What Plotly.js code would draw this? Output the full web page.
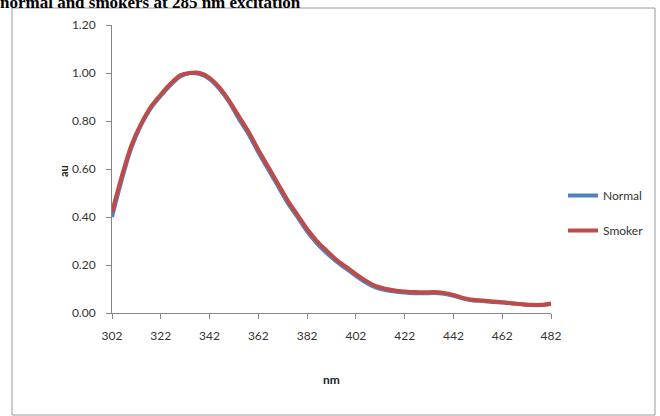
<!DOCTYPE html>
<html>
<head>
<meta charset="utf-8">
<script src="https://cdn.plot.ly/plotly-3.0.1.min.js"></script>
<style>
html,body{margin:0;padding:0;background:#fff;overflow:hidden;}
#chart{width:660px;height:416px;}
</style>
</head>
<body>
<div id="chart"></div>
<script>
var wavelength = [302,306,310,314,318,322,326,330,334,338,342,346,350,354,358,362,366,370,374,378,382,386,390,394,398,402,406,410,414,418,422,426,430,434,438,442,446,450,454,458,462,466,470,474,478,482];
var normal = [0.40,0.555,0.69,0.785,0.855,0.905,0.95,0.985,1.00,0.995,0.975,0.935,0.88,0.81,0.745,0.67,0.60,0.53,0.46,0.40,0.34,0.29,0.25,0.215,0.185,0.155,0.128,0.107,0.096,0.09,0.085,0.082,0.082,0.083,0.08,0.072,0.06,0.052,0.05,0.046,0.044,0.04,0.036,0.033,0.033,0.038];
var smoker = [0.42,0.57,0.70,0.79,0.86,0.91,0.955,0.99,1.00,1.00,0.98,0.94,0.885,0.82,0.755,0.68,0.61,0.54,0.47,0.41,0.35,0.30,0.26,0.222,0.192,0.162,0.135,0.113,0.101,0.094,0.09,0.087,0.086,0.087,0.083,0.075,0.063,0.055,0.052,0.048,0.045,0.041,0.037,0.034,0.034,0.04];
var xTicks = [302,322,342,362,382,402,422,442,462,482];
var yTicks = [0,0.2,0.4,0.6,0.8,1.0,1.2];
var yTickText = ["0.00","0.20","0.40","0.60","0.80","1.00","1.20"];

var tickFont = {family:"Lato, 'Open Sans', sans-serif", size:12, color:"#333333"};

var traces = [
  {x:wavelength, y:normal, name:"Normal", mode:"lines", legendgroup:"a",
   line:{color:"#4F81BD", width:4, shape:"spline", smoothing:0.8}},
  {x:wavelength, y:smoker, name:"Smoker", mode:"lines", legendgroup:"b",
   line:{color:"#BE4B48", width:4, shape:"spline", smoothing:0.8}}
];

var L=112, R=551, T=25, B=313;
var W=R-L, H=B-T;
function px(x){return (x-L)/W;}
function py(y){return (B-y)/H;}

var layout = {
  width:660, height:416,
  margin:{l:L, r:660-R, t:T, b:416-B, pad:0, autoexpand:false},
  paper_bgcolor:"#ffffff", plot_bgcolor:"#ffffff",
  showlegend:true,
  title:{text:"normal and smokers at 285 nm excitation", x:0, xref:"container", xanchor:"left",
         y:1-8/416, yref:"container", yanchor:"bottom", automargin:false,
         font:{family:"'Liberation Serif', 'Times New Roman', serif", size:17, color:"#000", weight:"bold"}},
  xaxis:{range:[302,482], tickvals:xTicks, ticktext:xTicks.map(String), showgrid:false, zeroline:false,
         showline:true, linecolor:"#868686", linewidth:1, ticks:"outside", ticklen:5, tickcolor:"#868686",
         ticklabelstandoff:7, tickfont:tickFont, fixedrange:true, automargin:false},
  yaxis:{range:[0,1.2], tickvals:yTicks, ticktext:yTickText, showgrid:false, zeroline:false,
         showline:true, linecolor:"#868686", linewidth:1, ticks:"outside", ticklen:5, tickcolor:"#868686",
         ticklabelstandoff:8, tickfont:tickFont, fixedrange:true, automargin:false},
  legend:{x:px(563), y:py(181), xanchor:"left", yanchor:"top", traceorder:"grouped", tracegroupgap:16,
          font:{family:"Lato, 'Open Sans', sans-serif", size:12, color:"#333333"}, bgcolor:"rgba(0,0,0,0)",
          itemwidth:30},
  shapes:[{type:"rect", xref:"paper", yref:"paper", x0:px(12), x1:px(655), y0:py(415), y1:py(8),
           line:{color:"#9a9a9a", width:1}, fillcolor:"rgba(0,0,0,0)", layer:"below"}],
  annotations:[
    {text:"au", xref:"paper", yref:"paper", x:px(63), y:py(171), textangle:-90, showarrow:false,
     xanchor:"center", yanchor:"middle", font:{family:"Lato, 'Open Sans', sans-serif", size:11, color:"#222", weight:"bold"}},
    {text:"nm", xref:"paper", yref:"paper", x:0.5, y:py(379), showarrow:false,
     xanchor:"center", yanchor:"middle", font:{family:"Lato, 'Open Sans', sans-serif", size:12, color:"#222", weight:"bold"}}
  ]
};

Plotly.newPlot("chart", traces, layout, {displayModeBar:false, staticPlot:true});
</script>
</body>
</html>
